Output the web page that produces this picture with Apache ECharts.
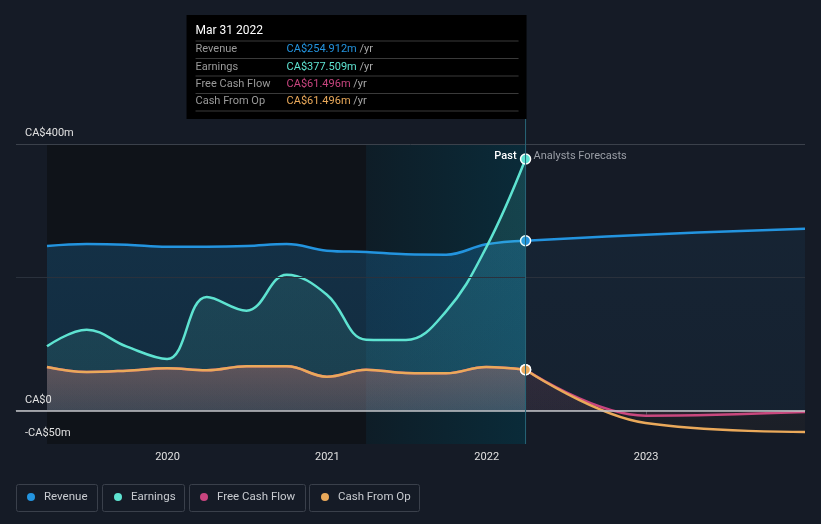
<!DOCTYPE html>
<html>
<head>
<meta charset="utf-8">
<script src="https://cdn.jsdelivr.net/npm/echarts@6/dist/echarts.min.js"></script>
<style>
html,body{margin:0;padding:0;background:#151b26;}
#c{width:821px;height:524px;}
</style>
</head>
<body>
<div id="c"></div>
<script>
// ---- data ----
const pastDates = ['2019-03-31','2019-06-30','2019-09-30','2019-12-31','2020-03-31','2020-06-30','2020-09-30','2020-12-31','2021-03-31','2021-06-30','2021-09-30','2021-12-31','2022-03-31'];
const revenuePast = [247, 250, 249, 246, 246, 247, 250, 240, 238, 234.5, 234, 249.5, 254.912];
const earningsPast = [96.5, 121.5, 96, 77.5, 170.5, 150, 204, 174, 106.5, 106, 149, 245, 377.509];
const fcfPast = [65.5, 58, 60, 63.5, 60.5, 66.5, 66.5, 51, 61.5, 56.5, 56, 65.5, 61.496];
const cfoPast = [65.5, 58, 60, 63.5, 60.5, 66.5, 66.5, 51, 61.5, 56.5, 56, 65.5, 61.496];
const fcDates = ['2022-03-31','2022-12-31','2023-12-31'];
const revenueFc = [254.912, 264, 273];
const fcfFc = [61.496, -7.5, -2];
const cfoFc = [61.496, -18.5, -32];
const yTickLabels = {'400':'CA$400m','0':'CA$0','-50':'-CA$50m'};
const seriesNames = ['Revenue','Earnings','Free Cash Flow','Cash From Op'];
const colors = ['#2394df','#5ee3d1','#c8457f','#eaa95a'];
const tipDate = 'Mar 31 2022';
const tipValues = ['CA$254.912m','CA$377.509m','CA$61.496m','CA$61.496m'];

const FONT = 'Roboto, "Noto Sans", sans-serif';
function pairs(d, v, mark, ci){
  return d.map((x,i)=>{
    const it = {value:[x, v[i]]};
    if (mark && i === d.length-1){
      it.symbol = 'circle'; it.symbolSize = 10;
      it.itemStyle = {color: colors[ci], borderColor:'#fff', borderWidth:1.5};
    }
    return it;
  });
}
function lineSeries(name, d, v, ci, areaOpTop, areaOpBot, mark, z){
  return {
    name, type:'line', data: pairs(d, v, mark, ci), smooth:0.4,
    symbol:'none', showSymbol:true, z: z||2,
    lineStyle:{color:colors[ci], width:2.5},
    itemStyle:{color:colors[ci]},
    areaStyle:{origin:0, color:{type:'linear',x:0,y:0,x2:0,y2:1,colorStops:[
      {offset:0,color:echarts.color.modifyAlpha(colors[ci], areaOpTop)},
      {offset:1,color:echarts.color.modifyAlpha(colors[ci], areaOpBot)}]}},
    emphasis:{disabled:true}, silent:true
  };
}

const chart = echarts.init(document.getElementById('c'), null, {renderer:'canvas'});
const option = {
  animation:false,
  backgroundColor:'#151b26',
  textStyle:{fontFamily:FONT},
  grid:{left:16, right:16, top:144, bottom:80},
  xAxis:{
    type:'time', min:new Date('2019-01-19').getTime(), max:new Date('2023-12-31').getTime(),
    minInterval: 365*24*3600*1000,
    axisLine:{lineStyle:{color:'#3d434d', width:1}},
    axisTick:{show:true, length:4, lineStyle:{color:'#4a505a'}},
    splitLine:{show:false},
    axisLabel:{color:'#e0e0e0', fontSize:11, fontFamily:FONT, margin:8, showMinLabel:false, showMaxLabel:false,
      formatter:(v)=>{const d=new Date(v); return (d.getMonth()===0 && d.getDate()===1)? String(d.getFullYear()):'';}}
  },
  yAxis:{
    type:'value', min:-50, max:400, interval:50, z:10,
    axisLine:{show:false}, axisTick:{show:false}, splitLine:{show:false},
    axisLabel:{inside:true, margin:9, verticalAlign:'bottom', color:'#e0e0e0', fontSize:11, fontFamily:FONT,
      padding:[0,0,5,0], formatter:(v)=> yTickLabels[String(v)] || ''}
  },
  legend: seriesNames.map((n,i)=>({
    data:[n], left:[27,114,200,321][i], top:491, padding:0, icon:'circle', itemWidth:8, itemHeight:8, itemGap:0,
    selectedMode:false, textStyle:{color:'#c8cbd0', fontSize:11.5, fontFamily:FONT, padding:[0,0,0,4]}
  })),
  series:[
    {
      name:'bg', type:'line', data:pairs(pastDates, revenuePast, false, 0), symbol:'none', z:1,
      lineStyle:{width:0, opacity:0}, silent:true, legendHoverLink:false,
      markArea:{silent:true, data:[
        [{xAxis:'2019-03-31', itemStyle:{color:'#0f1319'}}, {xAxis:'2021-03-31'}],
        [{xAxis:'2021-03-31', itemStyle:{color:{type:'linear',x:0,y:0,x2:1,y2:0,colorStops:[
          {offset:0,color:'#0e1d27'},{offset:1,color:'#0a2b39'}]}}}, {xAxis:'2022-03-31'}]
      ]}
    },
    lineSeries('Revenue', pastDates, revenuePast, 0, 0.32, 0.28, true, 2),
    lineSeries('Revenue', fcDates, revenueFc, 0, 0.1, 0.08, false, 2),
    lineSeries('Earnings', pastDates, earningsPast, 1, 0.2, 0.14, true, 3),
    lineSeries('Free Cash Flow', pastDates, fcfPast, 2, 0.3, 0.18, true, 3),
    lineSeries('Free Cash Flow', fcDates, fcfFc, 2, 0.14, 0.1, false, 3),
    lineSeries('Cash From Op', pastDates, cfoPast, 3, 0.25, 0.12, true, 4),
    lineSeries('Cash From Op', fcDates, cfoFc, 3, 0.06, 0.04, false, 4),
    {
      name:'grid', type:'line', data:pairs(pastDates, revenuePast, false, 0), symbol:'none', z:5,
      lineStyle:{width:0, opacity:0}, silent:true,
      markLine:{silent:true, symbol:'none', label:{show:false}, data:[
        {yAxis:400, lineStyle:{color:'#3b414b', width:1, type:'solid'}},
        {yAxis:200, lineStyle:{color:'#2a313c', width:1, type:'solid'}},
        {yAxis:0, lineStyle:{color:'#c4c6ca', width:1.5, type:'solid'}}
      ]}
    }
  ]
};
chart.setOption(option);

const px = chart.convertToPixel({gridIndex:0}, ['2022-03-31', 0]);
const xNow = px[0];
const g = [];
// vertical marker line
g.push({type:'line', shape:{x1:xNow, y1:119, x2:xNow, y2:444}, style:{stroke:'#276577', lineWidth:1}, z:10, silent:true});
g.push({type:'text', x:xNow-9, y:156, style:{text:'Past', fill:'#ffffff', font:'500 11px '+FONT, align:'right', verticalAlign:'middle'}, z:10});
g.push({type:'text', x:xNow+8, y:156, style:{text:'Analysts Forecasts', fill:'#9a9ea6', font:'11px '+FONT, align:'left', verticalAlign:'middle'}, z:10});
// tooltip box
g.push({type:'rect', shape:{x:xNow-339, y:15, width:340, height:104}, style:{fill:'#000000'}, z:20});
g.push({type:'text', x:xNow-330, y:31, style:{text:tipDate, fill:'#ffffff', font:'12px '+FONT, verticalAlign:'middle'}, z:21});
const sepY = [41, 58.5, 76, 93.5, 111];
sepY.forEach(y=>g.push({type:'line', shape:{x1:xNow-330, y1:y, x2:xNow-7, y2:y}, style:{stroke:'#3a3a3a', lineWidth:1}, z:21}));
seriesNames.forEach((n,i)=>{
  const y = 49.5 + i*17.4;
  g.push({type:'text', x:xNow-330, y, style:{text:n, fill:'#9a9a9a', font:'11px '+FONT, verticalAlign:'middle'}, z:21});
  g.push({type:'text', x:xNow-239, y, style:{text:'{v|'+tipValues[i]+'} {u|/yr}', verticalAlign:'middle', font:'11px '+FONT,
    rich:{v:{fill:colors[i], fontSize:11, fontFamily:FONT}, u:{fill:'#a8a8a8', fontSize:11, fontFamily:FONT}}}, z:21});
});
// legend boxes
[[16,81],[102,82],[189,116],[309,110]].forEach(b=>{
  g.push({type:'rect', shape:{x:b[0]+0.5, y:484.5, width:b[1], height:27, r:2}, style:{fill:'none', stroke:'#3a404b', lineWidth:1}, z:0, silent:true});
});
chart.setOption({graphic:g});
</script>
</body>
</html>
